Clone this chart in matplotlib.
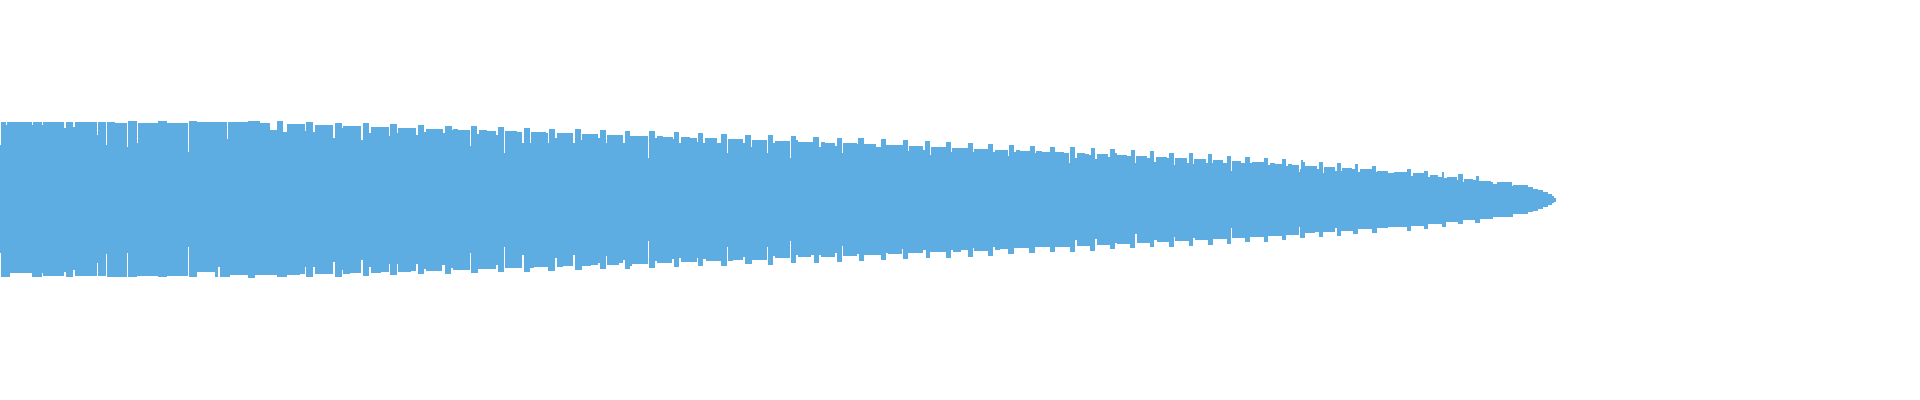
import matplotlib
matplotlib.use("Agg")
import matplotlib.pyplot as plt

# waveform peaks: block start (sample/px) and amplitude
top_start = [0, 1, 6, 7, 32, 33, 42, 43, 64, 66, 73, 75, 97, 98, 106, 107, 115, 127, 128, 137, 138, 158, 167, 188, 189, 197, 227, 228, 248, 260, 270, 277, 283, 287,
             300, 305, 306, 313, 315, 333, 335, 342, 343, 361, 363, 369, 371, 389, 390, 397, 398, 416, 418, 424, 426, 443, 445, 452, 453, 458, 470, 471, 477, 479, 487, 496, 498, 504, 505, 517, 522, 524, 530, 531, 546, 548, 549, 555, 557, 573, 575, 581, 582, 598,
             600, 606, 607, 623, 625, 630, 648, 649, 655, 657, 663, 673, 674, 679, 681, 690, 697, 698, 703, 705, 717, 721, 727, 728, 743, 745,
             751, 752, 767, 768, 773, 775, 790, 791, 796, 798, 813, 819, 821, 825, 835, 837, 842, 843, 857, 858, 864, 876, 881, 886, 903, 908, 909, 923, 925, 930, 931, 946, 951, 952, 968, 973, 974, 988, 993, 995,
             1000, 1008, 1009, 1014, 1016, 1020, 1030, 1035, 1036, 1042, 1050, 1055, 1064, 1069, 1070, 1075, 1077, 1085, 1089, 1091, 1095, 1097, 1108, 1110, 1115, 1117, 1127, 1131, 1135, 1136, 1147, 1150, 1154, 1156, 1167, 1169, 1174, 1175, 1187, 1189, 1193, 1194, 1206, 1208, 1212, 1213, 1223, 1227, 1231, 1232, 1241, 1245, 1250, 1252, 1264, 1268, 1270, 1275, 1282, 1286, 1288, 1292, 1299,
             1300, 1301, 1303, 1305, 1317, 1319, 1323, 1324, 1335, 1337, 1341, 1342, 1352, 1355, 1358, 1360, 1372, 1376, 1377, 1388, 1394, 1407, 1411, 1413, 1424, 1428, 1430, 1438, 1442, 1444, 1447, 1457, 1458, 1463, 1464, 1473, 1476, 1479, 1491, 1493, 1497, 1512, 1513, 1528, 1533, 1538, 1543, 1548, 1552, 1554]
top_amp = [55, 78, 75, 78, 75, 78, 75, 78, 72, 78, 73, 78, 65, 78, 55, 78, 77, 53, 79, 57, 77, 79, 77, 48, 79, 78, 61, 78, 79, 77, 70, 79, 68, 76,
           76, 69, 78, 68, 75, 62, 77, 72, 74, 60, 77, 67, 73, 64, 76, 67, 72, 65, 75, 68, 71, 67, 74, 70, 71, 70, 54, 74, 66, 70, 69, 65, 73, 47, 69, 68, 57, 72, 57, 68, 67, 57, 71, 62, 67, 57, 71, 60, 66, 62,
           70, 57, 65, 57, 69, 64, 42, 69, 62, 64, 63, 61, 68, 57, 63, 62, 58, 67, 57, 62, 57, 66, 47, 61, 57, 65,
           53, 60, 47, 65, 57, 59, 42, 64, 60, 58, 63, 53, 58, 57, 54, 62, 47, 57, 56, 62, 56, 53, 61, 55, 60, 49, 54, 50, 59, 45, 53, 58, 48, 52, 57, 48, 51, 56, 48, 50,
           50, 44, 55, 48, 50, 49, 54, 47, 49, 48, 53, 48, 47, 37, 53, 42, 47, 46, 45, 52, 41, 46, 43, 51, 47, 45, 44, 50, 37, 44, 42, 49, 38, 43, 42, 47, 35, 42, 37, 47, 36, 41, 37, 46, 37, 40, 37, 44, 29, 39, 37, 43, 37, 38, 42, 35, 37, 36, 41, 34, 36, 35, 28,
           31, 40, 38, 34, 31, 38, 27, 33, 29, 37, 29, 32, 31, 36, 28, 31, 34, 28, 29, 27, 28, 31, 24, 27, 29, 23, 25, 23, 28, 22, 23, 20, 26, 18, 21, 20, 24, 19, 18, 16, 18, 14, 15, 13, 11, 10, 8, 6, 4, 2]

bot_start = [0, 1, 10, 32, 42, 43, 64, 66, 73, 75, 97, 98, 106, 107, 127, 128, 137, 158, 167, 188, 189, 197, 215, 218, 220, 230, 248, 255, 277, 287,
             300, 305, 306, 313, 315, 333, 335, 342, 343, 350, 361, 363, 369, 371, 381, 389, 390, 397, 398, 411, 416, 418, 424, 426, 442, 445, 451, 453, 470, 471, 478, 496, 498, 504, 505, 522, 524, 530, 534, 548, 555, 557, 563, 573, 575, 582, 591, 598,
             600, 606, 607, 619, 623, 625, 630, 632, 648, 649, 655, 657, 672, 674, 679, 681, 697, 698, 703, 706, 721, 727, 728, 733, 743, 745,
             752, 767, 768, 773, 775, 790, 791, 796, 798, 811, 814, 819, 821, 835, 837, 842, 843, 857, 859, 864, 881, 886, 888, 902, 903, 908, 923, 926, 930, 946, 951, 953, 961, 968, 973, 974, 988, 993, 995,
             1000, 1008, 1014, 1029, 1035, 1050, 1055, 1070, 1075, 1077, 1090, 1095, 1097, 1110, 1115, 1117, 1130, 1135, 1137, 1150, 1154, 1157, 1169, 1174, 1175, 1189, 1193, 1195, 1208, 1213, 1227, 1231, 1232, 1245, 1250, 1264, 1268, 1282, 1286, 1299,
             1300, 1305, 1315, 1319, 1323, 1335, 1337, 1341, 1353, 1358, 1372, 1377, 1388, 1407, 1411, 1424, 1428, 1442, 1446, 1458, 1463, 1475, 1480, 1493, 1509, 1513, 1528, 1533, 1538, 1543, 1548, 1552, 1554]
bot_amp = [53, 77, 73, 77, 73, 76, 72, 77, 70, 76, 63, 76, 54, 77, 53, 77, 76, 77, 76, 47, 77, 72, 77, 67, 77, 75, 78, 75, 77, 75,
           74, 67, 77, 67, 74, 62, 77, 70, 74, 73, 60, 76, 67, 73, 72, 64, 75, 64, 72, 71, 64, 74, 69, 71, 65, 74, 68, 70, 53, 73, 69, 65, 72, 47, 68, 55, 72, 68, 67, 71, 58, 67, 66, 55, 70, 66, 65, 63,
           69, 56, 65, 63, 60, 69, 66, 64, 41, 68, 61, 63, 59, 67, 58, 62, 58, 66, 59, 61, 66, 47, 61, 60, 57, 64,
           60, 47, 65, 56, 58, 41, 63, 55, 57, 55, 63, 55, 57, 53, 62, 46, 56, 54, 61, 55, 60, 53, 54, 49, 59, 53, 50, 58, 52, 58, 50, 52, 50, 57, 48, 51, 56, 47, 50,
           49, 54, 48, 53, 47, 52, 47, 52, 40, 46, 51, 39, 45, 49, 43, 44, 48, 34, 43, 47, 40, 42, 47, 37, 41, 46, 38, 40, 45, 39, 44, 28, 38, 42, 37, 42, 36, 40, 35, 27,
           38, 33, 32, 37, 32, 28, 36, 31, 34, 29, 33, 28, 27, 31, 26, 29, 24, 27, 22, 24, 20, 23, 19, 17, 17, 14, 12, 11, 9, 7, 5, 3, 2]

wave_end = 1556
wave_color = "#5DACE2"

fig = plt.figure(figsize=(19.2, 4), dpi=100)
ax = fig.add_axes([0, 0, 1, 1])

ax.stairs(top_amp, top_start + [wave_end], baseline=0, fill=True,
          color=wave_color, linewidth=0, antialiased=False)
ax.stairs([-a for a in bot_amp], bot_start + [wave_end], baseline=0, fill=True,
          color=wave_color, linewidth=0, antialiased=False)

# centre line of the picture sits at y=200 px
ax.set_xlim(0, 1920)
ax.set_ylim(-200.5, 199.5)
ax.axis("off")

fig.savefig("out.png", dpi=100, facecolor="white")
